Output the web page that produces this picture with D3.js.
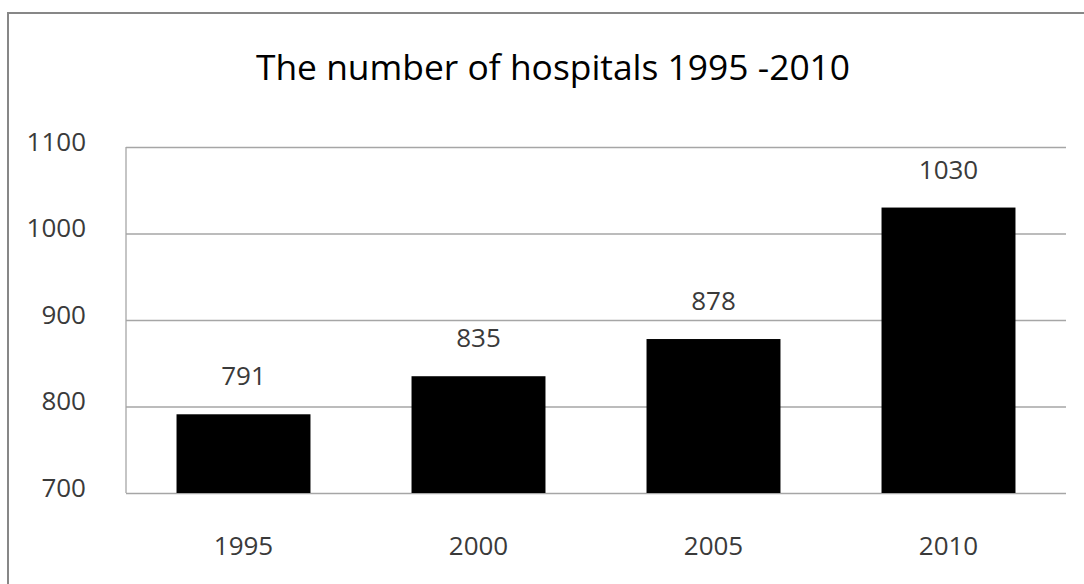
<!DOCTYPE html>
<html><head><meta charset="utf-8">
<script src="https://cdn.jsdelivr.net/npm/d3@7"></script>
<style>body{margin:0;background:#fff}svg{display:block}</style>
</head><body>
<script>
const categories = ["1995", "2000", "2005", "2010"];
const values = [791, 835, 878, 1030];
const yTicks = [700, 800, 900, 1000, 1100];
const title = "The number of hospitals 1995 -2010";

const W = 1084, H = 584;
const m = {left: 126, right: 18, top: 147, bottom: 91};
const svg = d3.select("body").append("svg").attr("width", W).attr("height", H);
svg.append("rect").attr("width", W).attr("height", H).attr("fill", "#fff");
svg.append("rect").attr("x", 8).attr("y", 13).attr("width", W).attr("height", H)
  .attr("fill", "none").attr("stroke", "#878787").attr("stroke-width", 2);

const font = "'Open Sans', sans-serif";
const x = d3.scaleBand().domain(categories).range([m.left, W - m.right]).paddingInner(0.43).paddingOuter(0.215);
const y = d3.scaleLinear().domain([700, 1100]).range([H - m.bottom, m.top]);

svg.append("text").attr("x", (m.left + W - m.right) / 2 - 43).attr("y", 80)
  .attr("text-anchor", "middle").attr("font-family", font).attr("font-size", 35.4)
  .attr("fill", "#000").text(title);

const yAxis = svg.append("g").attr("transform", `translate(${m.left},0)`)
  .call(d3.axisLeft(y).tickValues(yTicks).tickSize(-(W - m.right - m.left)).tickPadding(40).tickFormat(d3.format("d")));
yAxis.select(".domain").remove();
yAxis.selectAll(".tick line").attr("stroke", "#a6a6a6").attr("stroke-width", 1.3);
yAxis.selectAll(".tick text").attr("font-family", font).attr("font-size", 26).attr("fill", "#3a3a3a").attr("dy", "0.12em");

svg.append("line").attr("x1", m.left).attr("x2", m.left).attr("y1", m.top).attr("y2", H - m.bottom)
  .attr("stroke", "#a6a6a6").attr("stroke-width", 1.3);

svg.selectAll("rect.bar").data(values).join("rect").attr("class", "bar")
  .attr("x", (d, i) => x(categories[i])).attr("width", x.bandwidth())
  .attr("y", d => y(d)).attr("height", d => y(700) - y(d)).attr("fill", "#000");

svg.selectAll("text.lbl").data(values).join("text").attr("class", "lbl")
  .attr("x", (d, i) => x(categories[i]) + x.bandwidth() / 2).attr("y", d => y(d) - 29)
  .attr("text-anchor", "middle").attr("font-family", font).attr("font-size", 26).attr("fill", "#3a3a3a").text(d => d);

const xAxis = svg.append("g").attr("transform", `translate(0,${H - m.bottom})`)
  .call(d3.axisBottom(x).tickSize(0).tickPadding(42));
xAxis.select(".domain").remove();
xAxis.selectAll(".tick text").attr("font-family", font).attr("font-size", 26).attr("fill", "#3a3a3a").attr("dy", "0.78em");
</script>
</body></html>
